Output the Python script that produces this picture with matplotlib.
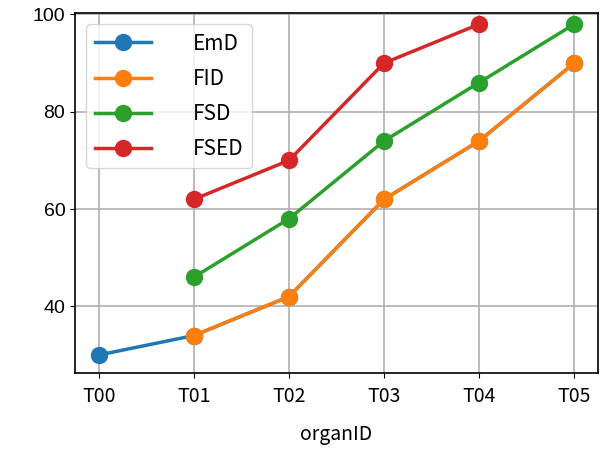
import numpy as np
import matplotlib
matplotlib.use("Agg")
import matplotlib.pyplot as plt

# data
organ_ids = ['T00', 'T01', 'T02', 'T03', 'T04', 'T05']
emd = [30, 34, 42, 62, 74, 90]
fid = [np.nan, 34, 42, 62, 74, 90]
fsd = [np.nan, 46, 58, 74, 86, 98]
fsed = [np.nan, 62, 70, 90, 98, np.nan]

cjk = ['Noto Sans CJK SC', 'DejaVu Sans']

fig = plt.figure(figsize=(6.09, 4.49), dpi=100)
ax = fig.add_axes([75/609, 1-373/449, 523/609, 360/449])

x = np.arange(len(organ_ids))
ax.plot(x, emd, marker='o', markersize=11.5, linewidth=2.5, label='EmD', zorder=3)
ax.plot(x, fid, marker='o', markersize=11.5, linewidth=2.5, label='FID', zorder=3)
ax.plot(x, fsd, marker='o', markersize=11.5, linewidth=2.5, label='FSD', zorder=3)
ax.plot(x, fsed, marker='o', markersize=11.5, linewidth=2.5, label='FSED', zorder=3)

ax.set_xticks(x)
ax.set_xticklabels(organ_ids, family=cjk, fontsize=14)
ax.tick_params(axis='x', pad=6)
ax.set_yticks([40, 60, 80, 100])
for t in ax.get_yticklabels():
    t.set_family('Liberation Sans')
    t.set_fontsize(14)
ax.set_ylim(26.3, 100.3)
ax.set_xlabel('organID', family=cjk, fontsize=14, labelpad=12)
ax.grid(True, color='#b0b0b0', linewidth=1.2)
for s in ax.spines.values():
    s.set_linewidth(1.2)

ax.legend(loc='upper left', prop={'family': cjk, 'size': 15},
          handletextpad=2.0, handlelength=2.7, labelspacing=0.63,
          borderaxespad=0.55)

plt.savefig('out.png', dpi=100)
